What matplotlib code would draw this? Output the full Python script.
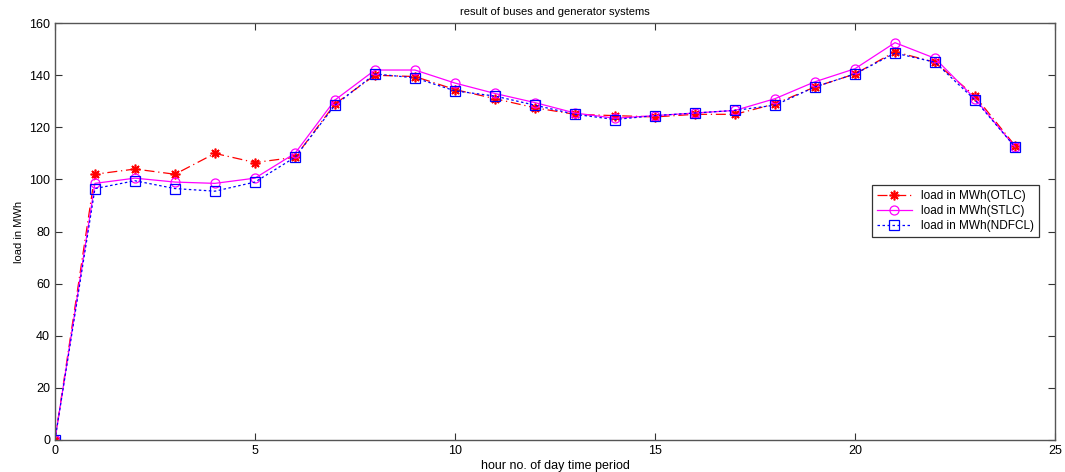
import matplotlib
matplotlib.use("Agg")
import matplotlib.pyplot as plt

hours = list(range(0, 25))
otlc = [0, 102, 104, 102, 110, 106.5, 108.5, 129, 140, 139.5, 134.5, 131, 127.5, 125,
        124.5, 124, 125, 125, 129, 135.5, 140.5, 149, 145, 132, 113]
stlc = [0, 98.5, 100.5, 99, 98.5, 100.5, 110, 130.5, 142, 142, 137, 133, 129.5, 125.5,
        123.5, 124.5, 125.5, 126.5, 131, 137.5, 142.5, 152.5, 146.5, 131, 112.5]
ndfcl = [0, 96.5, 99.5, 96.5, 95.5, 99, 108.5, 128.5, 140.5, 139, 134, 132, 128.5, 125,
         123, 124.5, 125.5, 126.5, 128.5, 135.5, 140.5, 148.5, 145, 130.5, 112.5]
xticks = [0, 5, 10, 15, 20, 25]
yticks = [0, 20, 40, 60, 80, 100, 120, 140, 160]

plt.rcParams['font.family'] = ['Liberation Sans', 'DejaVu Sans']
fig = plt.figure(figsize=(10.65, 4.72), dpi=100)
ax = fig.add_axes([0.0516, 0.0678, 0.939, 0.8832])

ax.plot(hours, otlc, color='red', linestyle=(0, (8, 3, 1, 3)), linewidth=0.9,
        marker=(8, 2, 0), markersize=7, markeredgewidth=1.2, label='load in MWh(OTLC)')
ax.plot(hours, stlc, color='magenta', linestyle='-', linewidth=0.9,
        marker='o', markersize=6.5, markerfacecolor='none', markeredgewidth=0.9,
        label='load in MWh(STLC)')
ax.plot(hours, ndfcl, color='blue', linestyle=(0, (2, 2)), linewidth=0.9,
        marker='s', markersize=6.5, markerfacecolor='none', markeredgewidth=0.9,
        label='load in MWh(NDFCL)')

ax.set_xlim(0, 25)
ax.set_ylim(0, 160)
ax.set_xticks(xticks)
ax.set_yticks(yticks)
ax.tick_params(direction='in', top=True, right=True, labelsize=9, length=5,
               width=0.8, color='#333333')
for s in ax.spines.values():
    s.set_color('#555555')
    s.set_linewidth(1.0)

ax.set_title('result of buses and generator systems', fontsize=8, pad=6)
ax.set_xlabel('hour no. of day time period', fontsize=9, labelpad=2)
ax.set_ylabel('load in MWh', fontsize=8, labelpad=4)

leg = ax.legend(loc='upper right', bbox_to_anchor=(0.99, 0.625), fontsize=8.5,
                fancybox=False, edgecolor='#333333', framealpha=1,
                handlelength=3, borderpad=0.4, labelspacing=0.25)
leg.get_frame().set_linewidth(0.9)

fig.savefig('out.png', dpi=100)
